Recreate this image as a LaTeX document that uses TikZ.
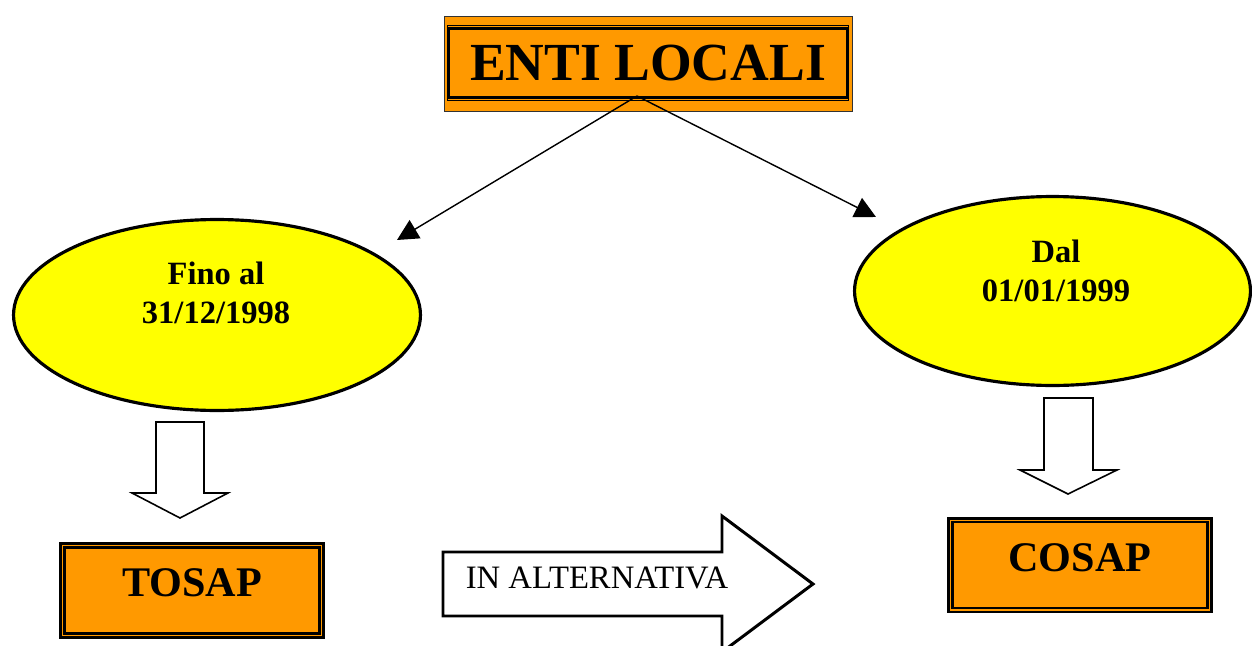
\documentclass[tikz,border=0pt]{standalone}
\usepackage{fontspec}
\setmainfont{Liberation Serif}
\usetikzlibrary{shapes.geometric,arrows.meta}
\definecolor{boxorange}{RGB}{255,153,0}
\definecolor{ovalyellow}{RGB}{255,255,0}
\begin{document}
\begin{tikzpicture}[x=0.02cm, y=-0.02cm,
    titlebox/.style={draw=black!80, line width=0.5pt, fill=boxorange, minimum width=8.16cm, minimum height=1.9cm, inner sep=0pt, font=\fontsize{30.5}{36}\selectfont\bfseries},
    taxbox/.style={draw=black, line width=1.7pt, fill=boxorange, minimum width=5.26cm, minimum height=1.88cm, inner sep=0pt, text depth=9pt, font=\fontsize{24}{29}\selectfont\bfseries},
    oval/.style={ellipse, draw=black, line width=1.8pt, fill=ovalyellow, inner sep=0pt},
    ovaltext/.style={align=center, font=\fontsize{18.5}{22}\selectfont\bfseries},
    link/.style={line width=0.8pt, -{Triangle[length=12pt,width=12pt]}},
    blockarrow/.style={draw=black, fill=white, line width=0.9pt}]
    \useasboundingbox (0,0) rectangle (1252,646);

    \node[titlebox] (enti) at (648,63.5) {ENTI LOCALI};
    \draw[line width=0.6pt] ([shift={(3.5,10)}]enti.north west) rectangle ([shift={(-3.5,-11)}]enti.south east);
    \draw[line width=1.5pt] ([shift={(5.5,13)}]enti.north west) rectangle ([shift={(-5.5,-14)}]enti.south east);

    \node[oval, minimum width=8.14cm, minimum height=3.82cm] (fino) at (217,315) {};
    \node[ovaltext] (finotext) at (216,293) {Fino al\\31/12/1998};
    \node[oval, minimum width=7.92cm, minimum height=3.78cm] (dal) at (1052.5,291) {};
    \node[ovaltext] (daltext) at (1056,271) {Dal\\01/01/1999};

    \coordinate (split) at (637,96);
    \coordinate (finotip) at (397,240);
    \coordinate (daltip) at (876,217);
    \draw[link] (split) -- (finotip);
    \draw[link] (split) -- (daltip);

    \draw[blockarrow] (156,422) -- (204,422) -- (204,493) -- (228,493) -- (180,518) -- (132,493) -- (156,493) -- cycle;
    \draw[blockarrow] (1044,398) -- (1093,398) -- (1093,470) -- (1117,470) -- (1068,494) -- (1020,470) -- (1044,470) -- cycle;

    \node[taxbox] (tosap) at (192,590.5) {TOSAP};
    \draw[line width=1.4pt] ([shift={(5.5,5.5)}]tosap.north west) rectangle ([shift={(-5.5,-5.5)}]tosap.south east);
    \node[taxbox] (cosap) at (1080,565) {COSAP};
    \draw[line width=1.4pt] ([shift={(5.5,5.5)}]cosap.north west) rectangle ([shift={(-5.5,-5.5)}]cosap.south east);

    \draw[blockarrow, line width=1.7pt] (443,552) -- (722,552) -- (722,516) -- (813,584) -- (722,652) -- (722,616) -- (443,616) -- cycle;
    \node[font=\fontsize{18.6}{22}\selectfont] (alt) at (597,578) {IN ALTERNATIVA};
\end{tikzpicture}
\end{document}
